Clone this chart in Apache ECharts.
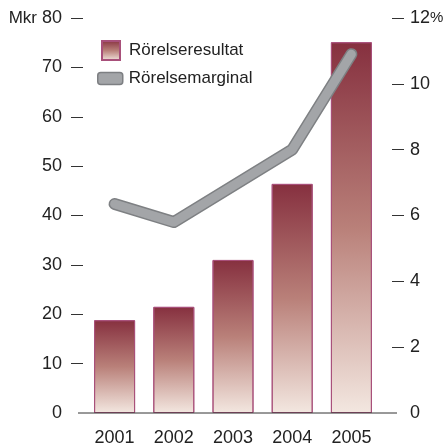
<!DOCTYPE html>
<html>
<head>
<meta charset="utf-8">
<script src="https://cdn.jsdelivr.net/npm/echarts@6/dist/echarts.min.js"></script>
<style>
  html, body { margin: 0; padding: 0; background: #fff; }
  #chart { width: 443px; height: 444px; }
</style>
</head>
<body>
<div id="chart"></div>
<script>
// data
var years = ['2001', '2002', '2003', '2004', '2005'];
var resultat = [18.8, 21.5, 31.0, 46.4, 75.1];   // Mkr
var marginal = [6.35, 5.8, 6.9, 8.0, 10.9];      // %
var leftTicks = [10, 20, 30, 40, 50, 60, 70, 80];
var rightTicks = [2, 4, 6, 8, 10, 12];

var font = 'Liberation Sans';
var fs = 17;     // words
var nfs = 18;    // numbers (wide digits in the original)
var gridLeft = 85, gridRight = 62, gridTop = 18, gridBottom = 31;

var barColor = new echarts.graphic.LinearGradient(0, 0, 0, 1, [
  { offset: 0, color: '#86303f' },
  { offset: 0.5, color: '#b98079' },
  { offset: 1, color: '#f3e7e0' }
]);

var option = {
  animation: false,
  textStyle: { fontFamily: font },
  grid: {
    left: gridLeft, right: gridRight, top: gridTop, bottom: gridBottom,
    containLabel: false, outerBoundsMode: 'none'
  },
  legend: [
    {
      data: [{ name: 'Rörelseresultat', icon: 'rect' }],
      left: 96, top: 35,
      itemWidth: 18, itemHeight: 19,
      textStyle: { fontFamily: font, fontSize: fs, color: '#222', padding: [0, 0, 0, 4] }
    },
    {
      data: [{
        name: 'Rörelsemarginal',
        icon: 'roundRect',
        itemStyle: { color: '#a3a5a8', borderColor: '#7d7f82', borderWidth: 1.5 }
      }],
      left: 92, top: 65,
      itemWidth: 25, itemHeight: 12,
      textStyle: { fontFamily: font, fontSize: fs, color: '#222', padding: [0, 0, 0, 1] }
    }
  ],
  xAxis: {
    type: 'category',
    data: years,
    axisLine: { show: false },
    axisTick: { show: false },
    axisLabel: { color: '#222', fontSize: nfs, margin: 16, fontFamily: font }
  },
  yAxis: [
    {
      type: 'value',
      min: 0, max: 80, interval: 10,
      offset: 2,
      axisLine: { show: false },
      axisTick: { show: true, length: 12, customValues: leftTicks, lineStyle: { color: '#333', width: 1 } },
      splitLine: { show: false },
      axisLabel: {
        color: '#222', fontSize: nfs, margin: 21, fontFamily: font,
        formatter: function (v) { return v === 80 ? '{u|Mkr} 80' : v; },
        rich: { u: { fontSize: fs, fontFamily: font, color: '#222' } }
      }
    },
    {
      type: 'value',
      min: 0, max: 12, interval: 2,
      position: 'right',
      offset: 11,
      axisLine: { show: false },
      axisTick: { show: true, length: 12, customValues: rightTicks, lineStyle: { color: '#333', width: 1 } },
      splitLine: { show: false },
      axisLabel: {
        color: '#222', fontSize: nfs, margin: 18, fontFamily: font,
        formatter: function (v) { return v === 12 ? '12{p|%}' : v; },
        rich: { p: { fontSize: 15, fontFamily: font, color: '#222' } }
      }
    }
  ],
  series: [
    {
      name: 'Rörelseresultat',
      type: 'bar',
      barWidth: 41,
      data: resultat,
      itemStyle: { color: barColor, borderColor: '#a8507a', borderWidth: 1 }
    },
    {
      name: 'marginal-kant',
      type: 'line',
      yAxisIndex: 1,
      data: marginal,
      symbol: 'none',
      silent: true,
      lineStyle: { color: '#7e8083', width: 12, cap: 'round', join: 'round' }
    },
    {
      name: 'Rörelsemarginal',
      type: 'line',
      yAxisIndex: 1,
      data: marginal,
      symbol: 'none',
      itemStyle: { color: '#a3a5a8' },
      lineStyle: { color: '#a3a5a8', width: 9, cap: 'round', join: 'round' }
    }
  ]
};

var myChart = echarts.init(document.getElementById('chart'));
myChart.setOption(option);

// baseline, a bit wider than the plot area like in the original
var y0 = myChart.convertToPixel({ yAxisIndex: 0 }, 0);
myChart.setOption({
  graphic: [{
    type: 'line',
    shape: { x1: gridLeft - 7, y1: y0, x2: 443 - gridRight + 16, y2: y0 },
    style: { stroke: '#333', lineWidth: 1 },
    z: 10
  }]
});
</script>
</body>
</html>
